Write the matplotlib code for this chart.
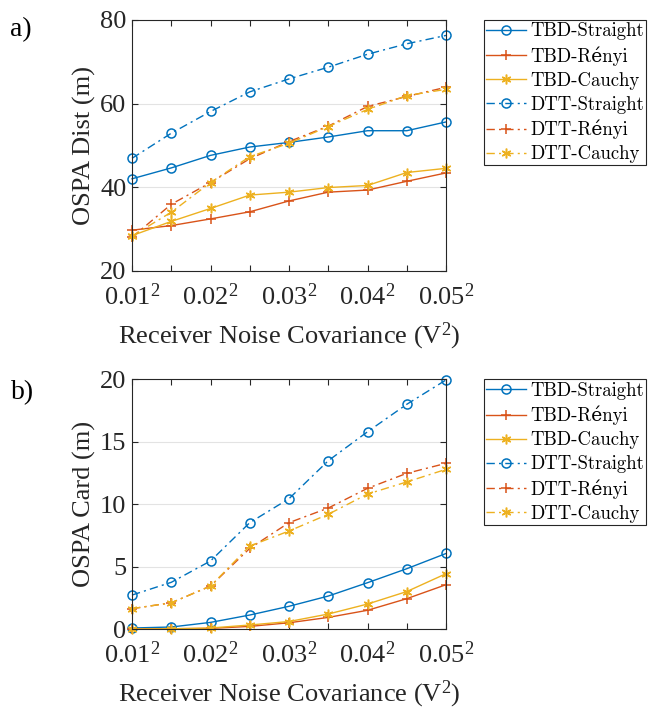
import numpy as np
import matplotlib
matplotlib.use('Agg')
import matplotlib.pyplot as plt

plt.rcParams['font.family'] = ['Liberation Serif', 'DejaVu Serif']
plt.rcParams['mathtext.fontset'] = 'custom'
plt.rcParams['mathtext.rm'] = 'Liberation Serif'
plt.rcParams['mathtext.it'] = 'Liberation Serif:italic'

# noise std values (x axis shows them squared)
sigma = [0.01, 0.015, 0.02, 0.025, 0.03, 0.035, 0.04, 0.045, 0.05]
xtick_labels = ['$0.01^2$', '', '$0.02^2$', '', '$0.03^2$', '', '$0.04^2$', '', '$0.05^2$']
names = ['TBD-Straight', 'TBD-Rényi', 'TBD-Cauchy', 'DTT-Straight', 'DTT-Rényi', 'DTT-Cauchy']

# OSPA distance (m)
dist_tbd_straight = [42.0, 44.6, 47.6, 49.6, 50.7, 52.0, 53.5, 53.5, 55.6]
dist_tbd_renyi = [29.7, 30.8, 32.4, 34.1, 36.7, 38.8, 39.3, 41.4, 43.4]
dist_tbd_cauchy = [28.4, 31.8, 34.9, 38.1, 38.8, 39.9, 40.4, 43.5, 44.5]
dist_dtt_straight = [46.9, 52.9, 58.1, 62.8, 65.9, 68.7, 71.8, 74.3, 76.3]
dist_dtt_renyi = [28.0, 35.9, 41.1, 46.8, 50.9, 54.6, 59.3, 61.7, 63.9]
dist_dtt_cauchy = [28.3, 34.0, 41.1, 47.3, 50.5, 54.5, 58.6, 61.9, 63.4]

# OSPA cardinality (m)
card_tbd_straight = [0.08, 0.16, 0.53, 1.12, 1.82, 2.64, 3.71, 4.83, 6.05]
card_tbd_renyi = [0.0, 0.02, 0.05, 0.21, 0.5, 0.93, 1.5, 2.43, 3.55]
card_tbd_cauchy = [0.0, 0.02, 0.08, 0.32, 0.6, 1.2, 2.0, 3.0, 4.43]
card_dtt_straight = [2.72, 3.74, 5.45, 8.52, 10.44, 13.48, 15.8, 18.0, 19.95]
card_dtt_renyi = [1.63, 2.1, 3.44, 6.46, 8.52, 9.69, 11.27, 12.47, 13.27]
card_dtt_cauchy = [1.63, 2.1, 3.44, 6.65, 7.85, 9.19, 10.81, 11.78, 12.79]

blue, red, yellow = '#0072BD', '#D95319', '#EDB120'
dashdot = (0, (6, 3, 1.5, 3))
asterisk = (6, 2, 0)
styles = [dict(color=blue, ls='-', marker='o', ms=6.5, mfc='none'),
          dict(color=red, ls='-', marker='+', ms=6.5),
          dict(color=yellow, ls='-', marker=asterisk, ms=7),
          dict(color=blue, ls=dashdot, marker='o', ms=6.5, mfc='none'),
          dict(color=red, ls=dashdot, marker='+', ms=6.5),
          dict(color=yellow, ls=dashdot, marker=asterisk, ms=7)]

fig = plt.figure(figsize=(6.52, 7.13), dpi=100)
ax1 = fig.add_axes([0.2025, 0.6203, 0.4816, 0.3517])
ax2 = fig.add_axes([0.2025, 0.1178, 0.4816, 0.3502])

panels = [(ax1, [dist_tbd_straight, dist_tbd_renyi, dist_tbd_cauchy,
                 dist_dtt_straight, dist_dtt_renyi, dist_dtt_cauchy],
           'OSPA Dist (m)', (20, 80), [20, 40, 60, 80]),
          (ax2, [card_tbd_straight, card_tbd_renyi, card_tbd_cauchy,
                 card_dtt_straight, card_dtt_renyi, card_dtt_cauchy],
           'OSPA Card (m)', (0, 20), [0, 5, 10, 15, 20])]

for ax, series, ylab, ylim, yticks in panels:
    for vals, name, st in zip(series, names, styles):
        ax.plot(sigma, vals, lw=1.0, mew=1.1, label=name, clip_on=False, **st)
    ax.set_xlim(0.01, 0.05)
    ax.set_ylim(*ylim)
    ax.set_xticks(sigma)
    ax.set_xticklabels(xtick_labels)
    ax.set_yticks(yticks)
    ax.grid(axis='y', color='#e3e3e3', lw=0.8)
    ax.set_axisbelow(True)
    for s in ax.spines.values():
        s.set_color('#262626')
        s.set_linewidth(0.8)
    ax.tick_params(direction='in', top=True, right=True, length=4, width=0.8,
                   colors='#262626', labelsize=19, labelcolor='#262626')
    ax.tick_params(axis='x', pad=9)
    ax.tick_params(axis='y', pad=4)
    ax.set_ylabel(ylab, fontsize=19, color='#262626', labelpad=3)
    ax.set_xlabel('Receiver Noise Covariance (V$^2$)', fontsize=19, color='#262626', labelpad=8)
    leg = ax.legend(loc='upper left', bbox_to_anchor=(1.121, 1.0), frameon=True, fancybox=False,
                    edgecolor='#262626', framealpha=1, borderpad=0.12, labelspacing=0.32,
                    handlelength=2.1, handletextpad=0.25, borderaxespad=0,
                    prop={'family': ['cmr10', 'DejaVu Serif'], 'size': 13.5})
    leg.get_frame().set_linewidth(0.8)

fig.text(0.032, 0.958, 'a)', fontsize=20, va='center', ha='center')
fig.text(0.034, 0.450, 'b)', fontsize=20, va='center', ha='center')

fig.savefig('out.png', dpi=100)
